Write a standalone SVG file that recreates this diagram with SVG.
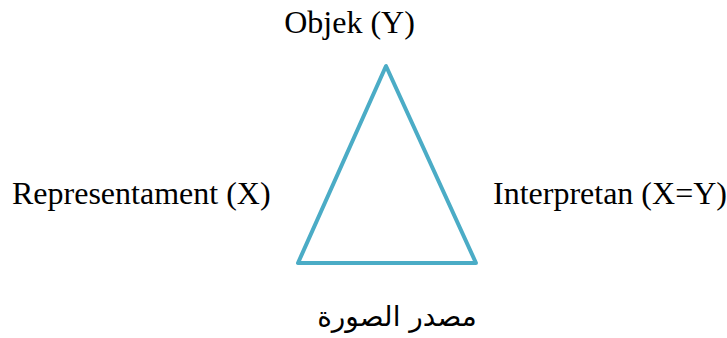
<svg xmlns="http://www.w3.org/2000/svg" width="727" height="338" viewBox="0 0 727 338">
<style>
.lbl{font-family:"Liberation Serif","Times New Roman",serif;font-size:32px;fill:#000}
.ar{font-family:"DejaVu Sans","Noto Sans",sans-serif;font-size:28px;fill:#000}
.tri{fill:none;stroke:#4BACC6;stroke-width:4;stroke-linejoin:round}
</style>
<rect width="727" height="338" fill="#fff"/>
<g id="connectors">
<polygon class="tri" points="386,66 298,263 476,263"/>
</g>
<g id="objek"><text class="lbl" x="349.5" y="33" text-anchor="middle">Objek (Y)</text></g>
<g id="representament"><text class="lbl" x="12" y="204">Representament (X)</text></g>
<g id="interpretan"><text class="lbl" x="493" y="204">Interpretan (X=Y)</text></g>
<g id="source"><text class="ar" x="397" y="326" text-anchor="middle" direction="rtl">مصدر الصورة</text></g>
</svg>
